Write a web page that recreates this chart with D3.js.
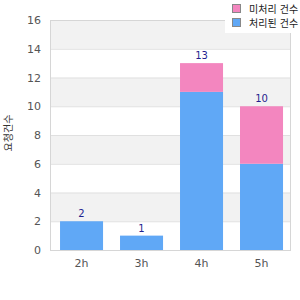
<!DOCTYPE html>
<html>
<head>
<meta charset="utf-8">
<script src="https://cdn.jsdelivr.net/npm/d3@7"></script>
<style>
  body { margin: 0; background: #fff; }
  text { font-family: "DejaVu Sans", "Noto Sans CJK KR", sans-serif; }
</style>
</head>
<body>
<svg data-chart width="300" height="300"></svg>
<script>
const categories = ['2h', '3h', '4h', '5h']
const doneValues = [2, 1, 11, 6]
const openValues = [0, 0, 2, 4]
const seriesNames = ['미처리 건수', '처리된 건수']
const yTicks = [0, 2, 4, 6, 8, 10, 12, 14, 16]
const yTitle = '요청건수'

const colors = {open: '#f386bf', done: '#60a8f6'}

let svg = d3.select('[data-chart]'),
    plotLeft = 50, plotRight = 290, plotTop = 20, plotBottom = 250

let x = d3.scaleBand()
    .domain(categories)
    .range([plotLeft, plotRight])
    .paddingInner(0.283)
    .paddingOuter(0.1417)
    .align(0.59)

let y = d3.scaleLinear()
    .domain([0, 16])
    .range([plotBottom, plotTop])

// alternating bands
svg.append('g')
    .selectAll('rect')
    .data(yTicks.slice(0, -1))
    .enter().append('rect')
    .attr('x', plotLeft)
    .attr('width', plotRight - plotLeft)
    .attr('y', d => y(d + 2))
    .attr('height', d => y(d) - y(d + 2))
    .attr('fill', (d, i) => i % 2 ? '#f2f2f2' : '#fff')

// grid
svg.append('g')
    .selectAll('line')
    .data(yTicks)
    .enter().append('line')
    .attr('x1', plotLeft).attr('x2', plotRight)
    .attr('y1', d => y(d) + 0.5).attr('y2', d => y(d) + 0.5)
    .attr('stroke', '#e0e0e0')

// frame
svg.append('rect')
    .attr('x', plotLeft + 0.5).attr('y', plotTop + 0.5)
    .attr('width', plotRight - plotLeft).attr('height', plotBottom - plotTop)
    .attr('fill', 'none')
    .attr('stroke', '#d6d6d6')

let stacked = categories.map((c, i) => ({cat: c, done: doneValues[i], open: openValues[i]}))

let bars = svg.append('g')

bars.selectAll('rect.done')
    .data(stacked)
    .enter().append('rect')
    .attr('class', 'done')
    .attr('x', d => x(d.cat))
    .attr('width', x.bandwidth())
    .attr('y', d => y(d.done))
    .attr('height', d => y(0) - y(d.done))
    .attr('fill', colors.done)

bars.selectAll('rect.open')
    .data(stacked.filter(d => d.open > 0))
    .enter().append('rect')
    .attr('class', 'open')
    .attr('x', d => x(d.cat))
    .attr('width', x.bandwidth())
    .attr('y', d => y(d.done + d.open))
    .attr('height', d => y(d.done) - y(d.done + d.open))
    .attr('fill', colors.open)

bars.selectAll('text')
    .data(stacked)
    .enter().append('text')
    .attr('x', d => x(d.cat) + x.bandwidth() / 2)
    .attr('y', d => y(d.done + d.open) - 4)
    .attr('text-anchor', 'middle')
    .attr('font-size', 10)
    .attr('fill', '#1f1f8f')
    .text(d => d.done + d.open)

// axes
let yAxis = svg.append('g')
    .attr('transform', `translate(${plotLeft},0)`)
    .call(d3.axisLeft(y).tickValues(yTicks).tickSize(0).tickPadding(9))
yAxis.select('.domain').remove()
yAxis.selectAll('text').attr('font-size', 11).attr('fill', '#555')

let xAxis = svg.append('g')
    .attr('transform', `translate(0,${plotBottom})`)
    .call(d3.axisBottom(x).tickSize(0).tickPadding(9))
xAxis.select('.domain').remove()
xAxis.selectAll('text').attr('font-size', 11).attr('fill', '#555')

svg.append('text')
    .attr('transform', `translate(12,${(plotTop + plotBottom) / 2 - 2}) rotate(-90)`)
    .attr('text-anchor', 'middle')
    .attr('font-size', 10)
    .attr('fill', '#333')
    .text(yTitle)

// legend
let legend = svg.append('g')
legend.append('rect')
    .attr('x', 225).attr('y', 0)
    .attr('width', 75).attr('height', 33)
    .attr('fill', '#fff')

let items = legend.selectAll('g')
    .data([colors.open, colors.done])
    .enter().append('g')
    .attr('transform', (d, i) => `translate(232,${4 + i * 14})`)

items.append('rect')
    .attr('width', 8).attr('height', 8)
    .attr('x', 0.5).attr('y', 0.5)
    .attr('fill', d => d)
    .attr('stroke', '#888')

items.append('text')
    .attr('x', 17).attr('y', 8.5)
    .attr('font-size', 10)
    .attr('fill', '#222')
    .text((d, i) => seriesNames[i])
</script>
</body>
</html>
